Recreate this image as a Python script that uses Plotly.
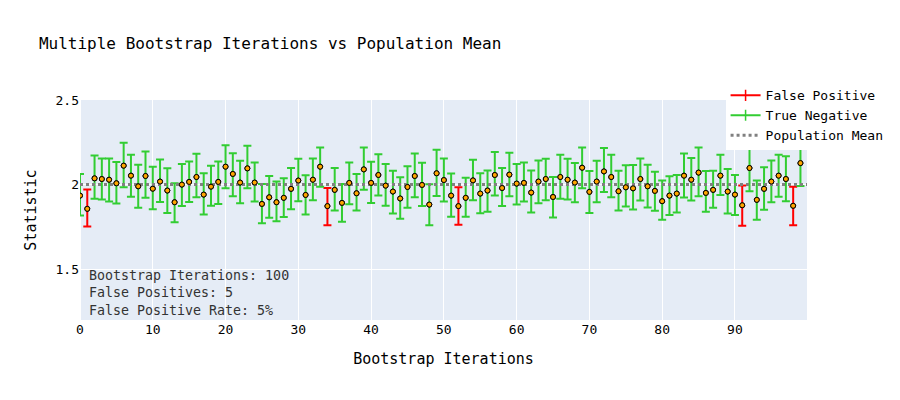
import plotly.graph_objects as go

# bootstrap estimates of the statistic, one per iteration, with CI bounds
iterations = list(range(100))

estimates = [
    1.935, 1.857, 2.037, 2.033, 2.029, 2.008, 2.112, 2.053, 1.990, 2.051,
    1.976, 2.018, 1.965, 1.896, 2.000, 2.016, 2.045, 1.941, 1.988, 2.016,
    2.106, 2.063, 2.012, 2.096, 2.012, 1.886, 1.925, 1.896, 1.922, 1.975,
    2.024, 1.939, 2.029, 2.106, 1.873, 1.969, 1.892, 2.010, 1.949, 2.090,
    2.010, 2.057, 1.994, 1.959, 1.918, 1.986, 2.051, 1.998, 1.882, 2.067,
    2.027, 1.935, 1.873, 1.922, 2.025, 1.947, 1.965, 2.057, 1.980, 2.059,
    2.006, 2.010, 1.953, 2.018, 2.033, 1.927, 2.045, 2.029, 2.012, 2.100,
    1.957, 2.018, 2.078, 2.045, 1.961, 1.984, 1.978, 2.033, 1.990, 1.963,
    1.902, 1.935, 1.947, 2.053, 2.029, 2.071, 1.951, 1.969, 2.053, 1.959,
    1.941, 1.878, 2.098, 1.910, 1.975, 2.018, 2.053, 2.033, 1.875, 2.127,
]

ci_lower = [
    1.818, 1.753, 1.916, 1.912, 1.900, 1.888, 1.984, 1.929, 1.863, 1.922,
    1.855, 1.898, 1.833, 1.778, 1.873, 1.898, 1.925, 1.824, 1.875, 1.886,
    1.978, 1.931, 1.890, 1.978, 1.900, 1.772, 1.804, 1.784, 1.808, 1.855,
    1.902, 1.824, 1.908, 1.988, 1.760, 1.847, 1.780, 1.884, 1.847, 1.969,
    1.892, 1.935, 1.875, 1.829, 1.798, 1.863, 1.925, 1.873, 1.760, 1.933,
    1.900, 1.810, 1.763, 1.810, 1.908, 1.831, 1.839, 1.935, 1.873, 1.931,
    1.882, 1.900, 1.835, 1.890, 1.908, 1.806, 1.916, 1.912, 1.896, 1.978,
    1.833, 1.896, 1.957, 1.925, 1.847, 1.871, 1.853, 1.906, 1.865, 1.845,
    1.792, 1.820, 1.835, 1.924, 1.906, 1.931, 1.839, 1.863, 1.939, 1.829,
    1.820, 1.757, 1.961, 1.792, 1.851, 1.896, 1.929, 1.902, 1.760, 1.992,
]

ci_upper = [
    2.063, 1.971, 2.172, 2.155, 2.155, 2.133, 2.247, 2.176, 2.118, 2.196,
    2.106, 2.149, 2.096, 2.008, 2.122, 2.137, 2.182, 2.067, 2.112, 2.137,
    2.233, 2.186, 2.141, 2.229, 2.131, 2.004, 2.051, 2.018, 2.037, 2.098,
    2.153, 2.055, 2.155, 2.220, 1.980, 2.098, 2.004, 2.131, 2.063, 2.220,
    2.135, 2.180, 2.122, 2.082, 2.043, 2.108, 2.184, 2.129, 2.002, 2.206,
    2.155, 2.065, 1.984, 2.041, 2.147, 2.067, 2.084, 2.192, 2.098, 2.188,
    2.122, 2.131, 2.084, 2.143, 2.153, 2.045, 2.176, 2.153, 2.127, 2.220,
    2.080, 2.141, 2.216, 2.176, 2.082, 2.114, 2.116, 2.155, 2.118, 2.076,
    2.025, 2.049, 2.057, 2.184, 2.157, 2.220, 2.080, 2.082, 2.176, 2.092,
    2.057, 1.995, 2.230, 2.024, 2.102, 2.143, 2.176, 2.167, 1.988, 2.260,
]

population_mean = 2.0
mean_line_x = [0, 100]


def main():
    # split iterations by whether the CI misses the population mean
    fp_idx = [i for i in iterations
              if ci_lower[i] > population_mean or ci_upper[i] < population_mean]
    tn_idx = [i for i in iterations if i not in fp_idx]

    dot = dict(size=5, color="orange", line=dict(color="black", width=1))

    def err_trace(idx, color):
        return go.Scatter(
            x=[iterations[i] for i in idx],
            y=[estimates[i] for i in idx],
            mode="markers",
            marker=dot,
            error_y=dict(
                type="data", symmetric=False,
                array=[ci_upper[i] - estimates[i] for i in idx],
                arrayminus=[estimates[i] - ci_lower[i] for i in idx],
                color=color, thickness=2, width=4,
            ),
            showlegend=False,
            hoverinfo="skip",
        )

    fig = go.Figure()
    fig.add_trace(err_trace(fp_idx, "red"))
    fig.add_trace(err_trace(tn_idx, "limegreen"))

    fig.add_trace(go.Scatter(
        x=mean_line_x,
        y=[population_mean, population_mean],
        mode="lines",
        line=dict(color="gray", width=3, dash="dot"),
        showlegend=False,
    ))

    # redraw dots on top of the mean line
    fig.add_trace(go.Scatter(
        x=iterations, y=estimates, mode="markers",
        marker=dot, showlegend=False,
    ))

    # legend entries
    for name, color in [("False Positive", "red"), ("True Negative", "limegreen")]:
        fig.add_trace(go.Scatter(
            x=[None], y=[None], mode="lines+markers", name=name,
            line=dict(color=color, width=2),
            marker=dict(symbol="line-ns-open", size=8, color=color,
                        line=dict(color=color, width=1.5)),
        ))
    fig.add_trace(go.Scatter(
        x=[None], y=[None], mode="lines", name="Population Mean",
        line=dict(color="gray", width=3, dash="dot"),
    ))

    n = len(iterations)
    n_fp = len(fp_idx)
    fig.add_annotation(
        xref="paper", yref="paper", x=0.01, y=0.0,
        xanchor="left", yanchor="bottom", align="left", showarrow=False,
        text=(f"Bootstrap Iterations: {n}<br>"
              f"False Positives: {n_fp}<br>"
              f"False Positive Rate: {round(100 * n_fp / n)}%"),
        font=dict(size=13.3, color="#333"),
    )

    fig.update_layout(
        width=884, height=384,
        template="plotly",
        font=dict(family="DejaVu Sans Mono", size=13, color="black"),
        title=dict(text="Multiple Bootstrap Iterations vs Population Mean",
                   x=0.035, xanchor="left", y=0.909, yanchor="middle",
                   font=dict(size=16)),
        xaxis=dict(title=dict(text="Bootstrap Iterations", font=dict(size=15),
                              standoff=17),
                   range=[0, 99.9], dtick=10),
        yaxis=dict(title=dict(text="Statistic", font=dict(size=15)),
                   range=[1.2, 2.5], dtick=0.5),
        legend=dict(x=0.888, y=1.089, xanchor="left", yanchor="top",
                    bgcolor="white", font=dict(size=13)),
        margin=dict(l=72, r=85, t=92, b=72, autoexpand=False),
    )

    fig.write_html("out.html")


if __name__ == "__main__":
    main()
